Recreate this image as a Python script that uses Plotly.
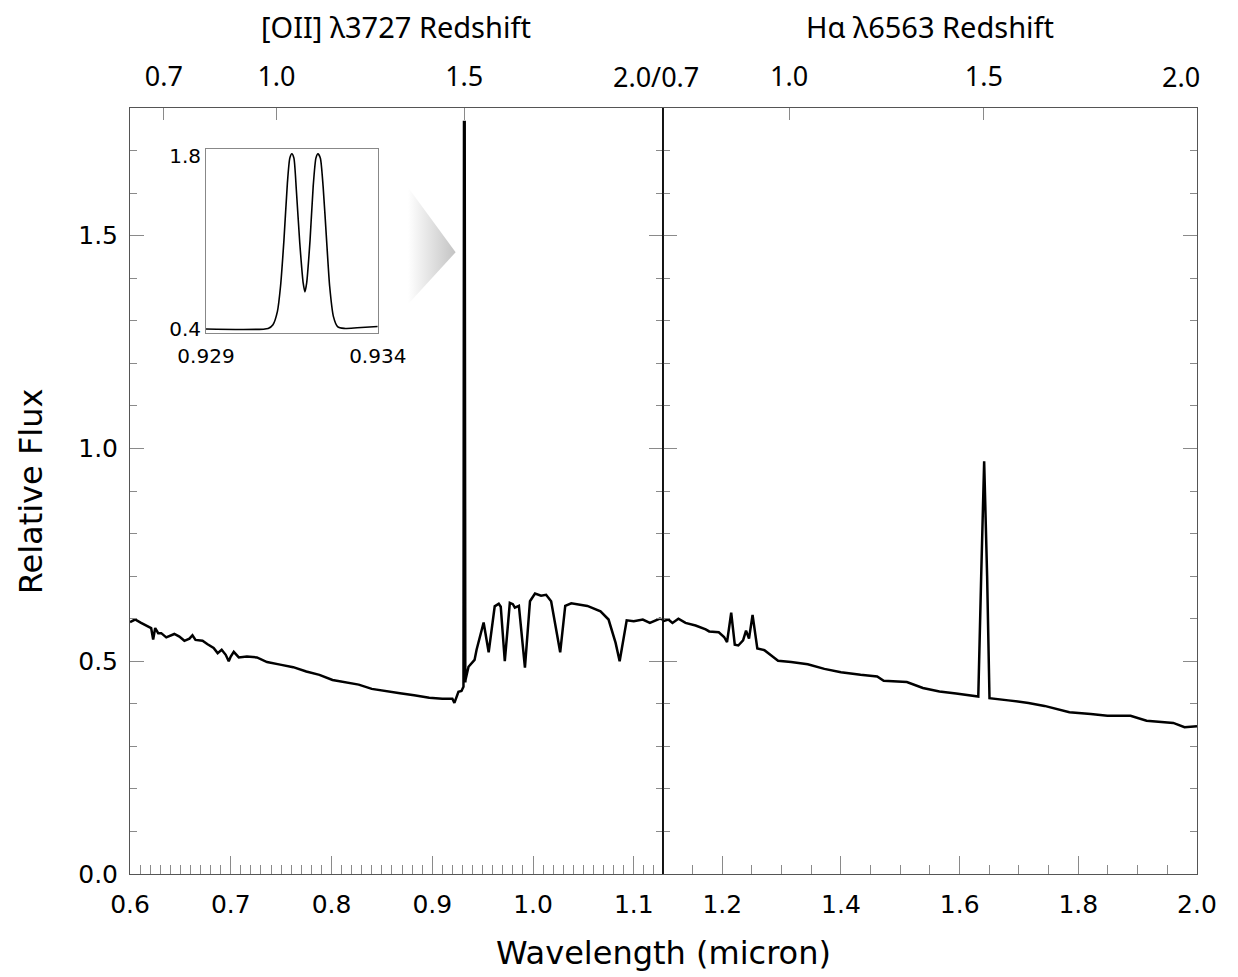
import plotly.graph_objects as go

# ---------------- data ----------------
spec_wl = [0.600, 0.605, 0.611, 0.618, 0.621, 0.623, 0.625, 0.628, 0.631, 0.636,
           0.644, 0.649, 0.654, 0.659, 0.662, 0.665, 0.672, 0.677, 0.683, 0.687,
           0.691, 0.695, 0.698, 0.700, 0.703, 0.708, 0.716, 0.726, 0.736, 0.749,
           0.762, 0.775, 0.788, 0.801, 0.814, 0.827, 0.840, 0.853, 0.868, 0.882,
           0.897, 0.910, 0.920, 0.922, 0.926, 0.929, 0.9310, 0.9315, 0.9319, 0.9322,
           0.9328, 0.933, 0.936, 0.942, 0.944, 0.951, 0.956, 0.962, 0.966, 0.968,
           0.972, 0.977, 0.980, 0.982, 0.986, 0.992, 0.997, 1.002, 1.008, 1.013,
           1.018, 1.027, 1.032, 1.038, 1.054, 1.067, 1.075, 1.082, 1.086, 1.090,
           1.093, 1.100, 1.109, 1.116, 1.126, 1.138, 1.155, 1.172, 1.178, 1.194,
           1.203, 1.208, 1.215, 1.221, 1.227, 1.235, 1.240, 1.245, 1.251, 1.259,
           1.271, 1.282, 1.294, 1.316, 1.344, 1.372, 1.400, 1.433, 1.461, 1.472,
           1.511, 1.538, 1.566, 1.594, 1.6314, 1.6363, 1.6413, 1.6463, 1.6503, 1.682,
           1.716, 1.743, 1.766, 1.785, 1.821, 1.849, 1.888, 1.915, 1.960, 1.979,
           2.000]
spec_flux = [0.592, 0.598, 0.590, 0.582, 0.578, 0.551, 0.578, 0.566, 0.566, 0.556,
             0.564, 0.558, 0.548, 0.553, 0.561, 0.550, 0.548, 0.540, 0.531, 0.519,
             0.527, 0.515, 0.500, 0.511, 0.522, 0.509, 0.511, 0.509, 0.498, 0.492,
             0.486, 0.476, 0.468, 0.456, 0.451, 0.445, 0.435, 0.431, 0.425, 0.420,
             0.414, 0.412, 0.412, 0.402, 0.428, 0.430, 0.440, 1.770, 0.700, 1.770,
             0.450, 0.456, 0.487, 0.503, 0.527, 0.591, 0.521, 0.629, 0.635, 0.628,
             0.500, 0.637, 0.634, 0.626, 0.630, 0.485, 0.641, 0.659, 0.654, 0.656,
             0.641, 0.521, 0.630, 0.636, 0.630, 0.617, 0.598, 0.543, 0.500, 0.558,
             0.596, 0.594, 0.598, 0.590, 0.600, 0.590, 0.584, 0.575, 0.570, 0.568,
             0.557, 0.545, 0.614, 0.539, 0.537, 0.549, 0.572, 0.553, 0.609, 0.530,
             0.526, 0.514, 0.501, 0.498, 0.493, 0.482, 0.474, 0.468, 0.464, 0.454,
             0.451, 0.437, 0.429, 0.424, 0.417, 0.700, 0.970, 0.700, 0.413, 0.408,
             0.402, 0.395, 0.387, 0.380, 0.376, 0.372, 0.372, 0.360, 0.355, 0.345,
             0.347]

# inset: [OII] doublet
inset_wl = [0.92900, 0.93081, 0.93095, 0.93108, 0.93117, 0.93127, 0.93137, 0.93144,
            0.93150, 0.93156, 0.93163, 0.93173, 0.93183, 0.93188, 0.93193, 0.93203,
            0.93212, 0.93220, 0.93226, 0.93233, 0.93241, 0.93251, 0.93260, 0.93271,
            0.93283, 0.93302, 0.93340, 0.93400]
inset_flux = [0.400, 0.405, 0.435, 0.543, 0.745, 1.120, 1.580, 1.780,
              1.816, 1.780, 1.525, 1.095, 0.770, 0.700, 0.770, 1.120,
              1.550, 1.780, 1.816, 1.780, 1.550, 1.120, 0.745, 0.500,
              0.420, 0.405, 0.410, 0.420]

# redshift axes
oii_rest = 0.3727
ha_rest = 0.6563
oii_z = [0.7, 1.0, 1.5]
ha_z = [1.0, 1.5]

# panel ranges (micron)
left_range = [0.6, 1.129]
right_range = [1.1, 2.0]
y_range = [0.0, 1.8]

# ---------------- figure ----------------
SPLIT = 0.4995
FR = '#555555'
TK = '#8a8a8a'
tick_font = dict(family='DejaVu Sans', size=25, color='black')
top_font = dict(family='Noto Sans', size=27, color='black')
inset_font = dict(family='DejaVu Sans', size=20, color='black')

fig = go.Figure()

for xa, ya in [('x', 'y'), ('x2', 'y2')]:
    fig.add_trace(go.Scatter(x=spec_wl, y=spec_flux, mode='lines', xaxis=xa, yaxis=ya,
                             line=dict(color='black', width=2.5), hoverinfo='skip',
                             showlegend=False))

# invisible traces so the top axes exist
fig.add_trace(go.Scatter(x=left_range, y=[0, 0], xaxis='x3', yaxis='y', mode='lines',
                         line=dict(width=0), opacity=0, hoverinfo='skip', showlegend=False))
fig.add_trace(go.Scatter(x=right_range, y=[0, 0], xaxis='x4', yaxis='y2', mode='lines',
                         line=dict(width=0), opacity=0, hoverinfo='skip', showlegend=False))

# gradient arrow pointing to the line
fig.add_trace(go.Scatter(x=[0.8759, 0.9232, 0.8759, 0.8759], y=[1.614, 1.461, 1.339, 1.614],
                         xaxis='x', yaxis='y', mode='lines', fill='toself',
                         line=dict(width=0, color='rgba(0,0,0,0)'),
                         fillgradient=dict(type='horizontal',
                                           colorscale=[[0, 'rgb(255,255,255)'],
                                                       [1, 'rgb(195,195,195)']]),
                         hoverinfo='skip', showlegend=False))

# inset
fig.add_trace(go.Scatter(x=inset_wl, y=inset_flux, mode='lines', xaxis='x5', yaxis='y5',
                         line=dict(color='black', width=1.6, shape='spline', smoothing=0.6),
                         hoverinfo='skip', showlegend=False))

common_x = dict(showgrid=False, zeroline=False, showline=True, linecolor=FR, linewidth=1,
                ticks='inside', tickcolor=TK, tickwidth=1, tickfont=tick_font)

fig.update_layout(
    width=1238, height=977,
    margin=dict(l=130, r=27, t=108, b=103),
    paper_bgcolor='white', plot_bgcolor='white',
    xaxis=dict(domain=[0, SPLIT], range=left_range, anchor='y', dtick=0.1, tick0=0.6,
               tickformat='.1f', ticklen=18, ticklabelstandoff=8,
               minor=dict(ticks='inside', dtick=0.01, tick0=0.6, ticklen=9, tickcolor=TK),
               **common_x),
    xaxis2=dict(domain=[SPLIT, 1], range=right_range, anchor='y2', dtick=0.2, tick0=0,
                tickformat='.1f', ticklen=18, ticklabelstandoff=8,
                minor=dict(ticks='inside', dtick=0.05, tick0=0, ticklen=9, tickcolor=TK),
                **common_x),
    xaxis3=dict(overlaying='x', side='top', anchor='y', range=left_range,
                tickvals=[oii_rest * (1 + z) for z in oii_z],
                ticktext=[f'{z:.1f}' for z in oii_z],
                showgrid=False, zeroline=False, showline=True, linecolor=FR,
                ticks='inside', ticklen=12, tickcolor=TK, tickfont=top_font,
                ticklabelstandoff=10),
    xaxis4=dict(overlaying='x2', side='top', anchor='y2', range=right_range,
                tickvals=[ha_rest * (1 + z) for z in ha_z],
                ticktext=[f'{z:.1f}' for z in ha_z],
                showgrid=False, zeroline=False, showline=True, linecolor=FR,
                ticks='inside', ticklen=12, tickcolor=TK, tickfont=top_font,
                ticklabelstandoff=10),
    yaxis=dict(domain=[0, 1], range=y_range, anchor='x', dtick=0.5, tick0=0,
               tickformat='.1f', ticklen=14, mirror='ticks',
               minor=dict(ticks='inside', dtick=0.1, tick0=0, ticklen=7, tickcolor=TK),
               ticklabelstandoff=6,
               **common_x),
    yaxis2=dict(domain=[0, 1], range=y_range, anchor='x2', matches='y', dtick=0.5, tick0=0,
                showticklabels=False, ticklen=14, mirror='ticks',
                minor=dict(ticks='inside', dtick=0.1, tick0=0, ticklen=7, tickcolor=TK),
                **common_x),
    xaxis5=dict(domain=[0.0712, 0.2322], range=[0.929, 0.934], anchor='y5',
                tickvals=[0.929, 0.934], ticktext=['0.929', '0.934'], ticks='',
                ticklabelstandoff=5,
                showgrid=False, zeroline=False, showline=True, mirror=True,
                linecolor='#888888', tickfont=inset_font),
    yaxis5=dict(domain=[0.7063, 0.9465], range=[0.368, 1.854], anchor='x5',
                tickvals=[0.4, 1.8], ticktext=['0.4', '1.8'], ticks='',
                showgrid=False, zeroline=False, showline=True, mirror=True,
                linecolor='#888888', tickfont=inset_font),
)

# divider between the two panels
fig.add_shape(type='line', xref='paper', yref='paper', x0=SPLIT, x1=SPLIT, y0=0, y1=1,
              line=dict(color='black', width=1.5), layer='above')

ann = []
ann.append(dict(text='Wavelength (micron)', xref='paper', yref='paper', x=0.5, y=-0.103,
                xanchor='center', yanchor='middle', showarrow=False,
                font=dict(family='DejaVu Sans', size=32, color='black')))
ann.append(dict(text='Relative Flux', xref='paper', yref='paper', x=-0.0925, y=0.5,
                xanchor='center', yanchor='middle', textangle=-90, showarrow=False,
                font=dict(family='DejaVu Sans', size=32, color='black')))
ann.append(dict(text='[OII] λ3727 Redshift', xref='paper', yref='paper', x=SPLIT / 2, y=1.107,
                xanchor='center', yanchor='middle', showarrow=False,
                font=dict(family='Noto Sans', size=29, color='black')))
ann.append(dict(text='Hα λ6563 Redshift', xref='paper', yref='paper', x=(SPLIT + 1) / 2, y=1.107,
                xanchor='center', yanchor='middle', showarrow=False,
                font=dict(family='Noto Sans', size=29, color='black')))
ann.append(dict(text='2.0/0.7', xref='paper', yref='paper', x=0.493, y=1.0405,
                xanchor='center', yanchor='middle', showarrow=False, font=top_font))
ann.append(dict(text='2.0', xref='paper', yref='paper', x=0.985, y=1.0405,
                xanchor='center', yanchor='middle', showarrow=False, font=top_font))
fig.update_layout(annotations=ann)

fig.write_html('out.html')
